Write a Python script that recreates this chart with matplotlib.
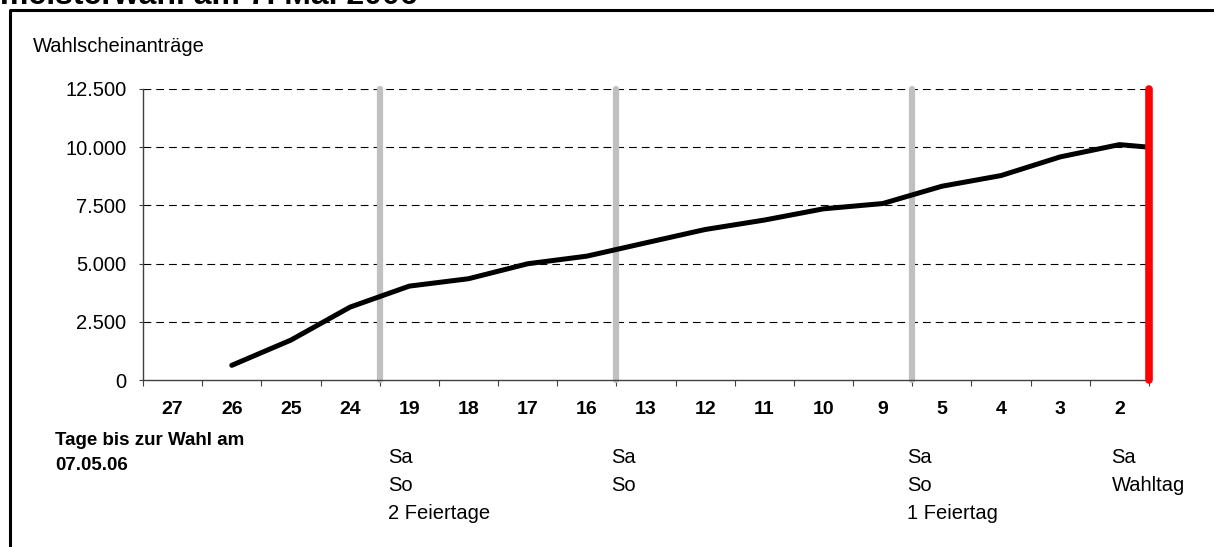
import matplotlib
matplotlib.use("Agg")
import matplotlib.pyplot as plt
from matplotlib.lines import Line2D
from matplotlib.ticker import FuncFormatter, FixedLocator

plt.rcParams['font.family'] = ['Liberation Sans', 'DejaVu Sans']

# Days remaining until the election on 07.05.06
days = ['27', '26', '25', '24', '19', '18', '17', '16', '13',
        '12', '11', '10', '9', '5', '4', '3', '2']
# Cumulative absentee ballot requests per day (no figure for day 27)
requests = [None, 630, 1716, 3132, 4033, 4350, 4993, 5320, 5894,
            6465, 6870, 7353, 7580, 8323, 8782, 9584, 10111]
# Count on election day itself
election_day_requests = 10000

# Weekend / holiday gaps: break after these days
gap_after = ['24', '16', '9']
gap_notes = ['Sa\nSo\n2 Feiertage', 'Sa\nSo', 'Sa\nSo\n1 Feiertag']
election_note = 'Sa\nWahltag'

y_ticks = [0, 2500, 5000, 7500, 10000, 12500]

W, H = 1214, 547
fig = plt.figure(figsize=(W / 100, H / 100), dpi=100)
ax = fig.add_axes([143 / W, 1 - 380 / H, (1149 - 143) / W, (380 - 89) / H])

n = len(days)
ax.set_xlim(-0.5, n - 0.5)
ax.set_ylim(0, 12500)

xs = [i for i, v in enumerate(requests) if v is not None]
ys = [v for v in requests if v is not None]
xs.append(n - 0.5)
ys.append(election_day_requests)

# Gridlines
for t in y_ticks[1:]:
    ax.axhline(t, color='black', lw=0.8, ls=(0, (7, 4.5)), zorder=1)

# Gap markers
for d in gap_after:
    xb = days.index(d) + 0.5
    ax.plot([xb, xb], [0, 12500], color='#C0C0C0', lw=4.5, solid_capstyle='round',
            zorder=2, clip_on=False)
ax.plot([n - 0.5, n - 0.5], [0, 12500], color='#FF0000', lw=5.5,
        solid_capstyle='round', zorder=4, clip_on=False)

ax.plot(xs, ys, color='black', lw=3.6, solid_capstyle='round',
        solid_joinstyle='round', zorder=3, clip_on=False)

# Axes styling
for s in ['top', 'right']:
    ax.spines[s].set_visible(False)
for s in ['left', 'bottom']:
    ax.spines[s].set_color('#404040')
    ax.spines[s].set_linewidth(1.0)

ax.yaxis.set_major_locator(FixedLocator(y_ticks))
ax.yaxis.set_major_formatter(FuncFormatter(lambda v, p: f"{int(v):,}".replace(',', '.')))
ax.tick_params(axis='y', direction='out', length=3, width=0.8, color='#404040',
               pad=9, labelsize=14.5)

ax.set_xticks([i + 0.5 for i in range(-1, n)])
ax.set_xticklabels([])
ax.xaxis.set_minor_locator(FixedLocator(list(range(n))))
ax.xaxis.set_ticklabels(days, minor=True)
ax.tick_params(axis='x', which='major', direction='out', length=4.5, width=0.8,
               color='#404040')
ax.tick_params(axis='x', which='minor', length=0, pad=15, labelsize=14)
for lab in ax.xaxis.get_minorticklabels():
    lab.set_fontweight('bold')

# Notes below the axis
for d, note in zip(gap_after, gap_notes):
    xb = days.index(d) + 0.5
    off = 6 if d == gap_after[0] else -4
    ax.annotate(note, xy=(xb, 0), xycoords='data', xytext=(off, -49),
                textcoords='offset points', ha='left', va='top', fontsize=14.5,
                linespacing=1.6, annotation_clip=False)
ax.annotate(election_note, xy=(n - 0.5, 0), xycoords='data', xytext=(-27, -49),
            textcoords='offset points', ha='left', va='top', fontsize=14.5,
            linespacing=1.6, annotation_clip=False)

fig.text(55 / W, 1 - 432 / H, 'Tage bis zur Wahl am\n07.05.06', ha='left', va='top',
         fontsize=13.5, fontweight='bold', linespacing=1.65)
fig.text(33 / W, 1 - 47 / H, 'Wahlscheinanträge', ha='left', va='center', fontsize=14.5)

# Title (partly above the visible area) and frame
fig.text(0, 1 - 4 / H, 'meisterwahl am 7. Mai 2006', ha='left', va='baseline',
         fontsize=23, fontweight='bold')
fig.add_artist(Line2D([9.5 / W, 9.5 / W, 1.0], [0.0, 1 - 9.5 / H, 1 - 9.5 / H],
                      transform=fig.transFigure, color='black', lw=2.2))

fig.savefig('out.png', dpi=100)
